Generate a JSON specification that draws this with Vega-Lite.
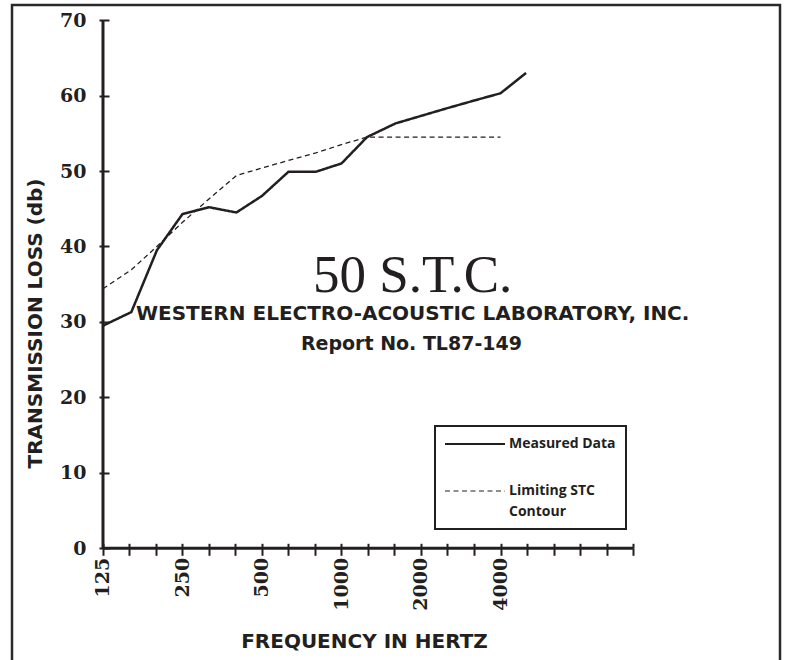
{
  "$schema": "https://vega.github.io/schema/vega-lite/v6.json",
  "width": 768,
  "height": 664,
  "autosize": {"type": "none"},
  "padding": {"left": 12, "top": 5, "right": 5, "bottom": -9},
  "background": "white",
  "config": {
    "view": {"stroke": "#2a2a2a", "strokeWidth": 2.5},
    "axis": {
      "grid": false,
      "domain": false,
      "labelFont": "DejaVu Serif",
      "labelFontWeight": "bold",
      "labelFontSize": 19,
      "labelColor": "#231f20",
      "tickColor": "#231f20",
      "tickWidth": 2,
      "titleFont": "DejaVu Sans",
      "titleFontWeight": "bold",
      "titleFontSize": 20,
      "titleColor": "#231f20"
    }
  },
  "datasets": {
    "curves": [
      {"series": "Measured Data", "freq": 125, "tl": 29.5},
      {"series": "Measured Data", "freq": 160, "tl": 31.3},
      {"series": "Measured Data", "freq": 200, "tl": 39.5},
      {"series": "Measured Data", "freq": 250, "tl": 44.3},
      {"series": "Measured Data", "freq": 315, "tl": 45.2},
      {"series": "Measured Data", "freq": 400, "tl": 44.5},
      {"series": "Measured Data", "freq": 500, "tl": 46.7},
      {"series": "Measured Data", "freq": 630, "tl": 49.9},
      {"series": "Measured Data", "freq": 800, "tl": 49.9},
      {"series": "Measured Data", "freq": 1000, "tl": 51.0},
      {"series": "Measured Data", "freq": 1250, "tl": 54.5},
      {"series": "Measured Data", "freq": 1600, "tl": 56.3},
      {"series": "Measured Data", "freq": 2000, "tl": 57.3},
      {"series": "Measured Data", "freq": 2500, "tl": 58.3},
      {"series": "Measured Data", "freq": 3150, "tl": 59.3},
      {"series": "Measured Data", "freq": 4000, "tl": 60.3},
      {"series": "Measured Data", "freq": 5000, "tl": 63.0},
      {"series": "Limiting STC Contour", "freq": 125, "tl": 34.4},
      {"series": "Limiting STC Contour", "freq": 160, "tl": 36.9},
      {"series": "Limiting STC Contour", "freq": 200, "tl": 40.0},
      {"series": "Limiting STC Contour", "freq": 250, "tl": 43.2},
      {"series": "Limiting STC Contour", "freq": 315, "tl": 46.3},
      {"series": "Limiting STC Contour", "freq": 400, "tl": 49.4},
      {"series": "Limiting STC Contour", "freq": 500, "tl": 50.4},
      {"series": "Limiting STC Contour", "freq": 630, "tl": 51.4},
      {"series": "Limiting STC Contour", "freq": 800, "tl": 52.4},
      {"series": "Limiting STC Contour", "freq": 1000, "tl": 53.5},
      {"series": "Limiting STC Contour", "freq": 1250, "tl": 54.5},
      {"series": "Limiting STC Contour", "freq": 1600, "tl": 54.5},
      {"series": "Limiting STC Contour", "freq": 2000, "tl": 54.5},
      {"series": "Limiting STC Contour", "freq": 2500, "tl": 54.5},
      {"series": "Limiting STC Contour", "freq": 3150, "tl": 54.5},
      {"series": "Limiting STC Contour", "freq": 4000, "tl": 54.5}
    ],
    "one": [{}]
  },
  "data": {"name": "curves"},
  "resolve": {"axis": {"x": "independent", "y": "independent"}},
  "layer": [
    {
      "transform": [{"filter": "datum.series === 'Measured Data'"}],
      "mark": {"type": "line", "color": "#231f20", "strokeWidth": 2.5},
      "encoding": {
        "x": {
          "field": "freq", "type": "quantitative",
          "scale": {"type": "log", "domain": [56.54, 45749], "nice": false, "zero": false},
          "axis": {
            "orient": "bottom", "offset": -120.7,
            "values": [125, 157.49, 198.43, 250, 314.98, 396.85, 500, 629.96, 793.7, 1000, 1259.92, 1587.4, 2000, 2519.84, 3174.8, 4000, 5039.68, 6349.6, 8000, 10079.37, 12699.21],
            "format": "d",
            "labelExpr": "indexof([125, 250, 500, 1000, 2000, 4000], datum.value) >= 0 ? datum.label : ''",
            "tickSize": 7,
            "labelAngle": 270, "labelAlign": "right", "labelBaseline": "middle",
            "labelPadding": 2, "labelOverlap": false, "labelFlush": false,
            "title": "FREQUENCY IN HERTZ",
            "titleX": 352, "titleY": 99, "titleAlign": "center", "titleBaseline": "alphabetic"
          }
        },
        "y": {
          "field": "tl", "type": "quantitative",
          "scale": {"domain": [-16, 72], "nice": false, "zero": false},
          "axis": {
            "orient": "left", "offset": -91,
            "values": [0, 10, 20, 30, 40, 50, 60, 70],
            "tickSize": 4, "labelPadding": 13,
            "labelOverlap": false, "labelFlush": false,
            "title": "TRANSMISSION LOSS (db)",
            "titleAngle": 270, "titleX": -62, "titleY": 318,
            "titleAlign": "center", "titleBaseline": "alphabetic"
          }
        },
        "strokeDash": {
          "field": "series", "type": "nominal",
          "scale": {"domain": ["Measured Data", "Limiting STC Contour"], "range": [[1, 0], [5, 3.5]]},
          "legend": {
            "orient": "none", "legendX": 423, "legendY": 421,
            "title": null,
            "padding": 10,
            "symbolType": "stroke", "symbolSize": 3600, "clipHeight": 16,
            "symbolOffset": 23,
            "symbolStrokeWidth": 2, "symbolStrokeColor": "#231f20",
            "labelFont": "Open Sans", "labelFontWeight": "bold", "labelFontSize": 14,
            "labelColor": "#231f20", "labelOffset": 27, "labelLimit": 220,
            "rowPadding": 31,
            "encode": {
              "symbols": {"update": {
                "strokeDash": {"signal": "datum.value === 'Limiting STC Contour' ? [1.5, 5] : [1, 0]"},
                "strokeWidth": {"signal": "datum.value === 'Limiting STC Contour' ? 1.2 : 2"}
              }},
              "labels": {"update": {
                "text": {"signal": "datum.value === 'Limiting STC Contour' ? ['Limiting STC', 'Contour'] : datum.label"},
                "lineHeight": {"value": 21}
              }},
              "legend": {"update": {
                "stroke": {"value": "#231f20"},
                "strokeWidth": {"value": 2}
              }}
            }
          }
        }
      }
    },
    {
      "transform": [{"filter": "datum.series === 'Limiting STC Contour'"}],
      "mark": {"type": "line", "color": "#231f20", "strokeWidth": 1.3},
      "encoding": {
        "x": {
          "field": "freq", "type": "quantitative",
          "axis": {
            "orient": "bottom", "offset": -120.7,
            "values": [125, 157.49, 198.43, 250, 314.98, 396.85, 500, 629.96, 793.7, 1000, 1259.92, 1587.4, 2000, 2519.84, 3174.8, 4000, 5039.68, 6349.6, 8000, 10079.37, 12699.21],
            "tickSize": -5, "labels": false, "title": null
          }
        },
        "y": {
          "field": "tl", "type": "quantitative",
          "axis": {
            "orient": "left", "offset": -91,
            "values": [0, 10, 20, 30, 40, 50, 60, 70],
            "tickSize": -6, "labels": false, "title": null
          }
        },
        "strokeDash": {"field": "series", "type": "nominal"}
      }
    },
    {
      "data": {"name": "one"},
      "mark": {"type": "rule", "color": "#231f20", "strokeWidth": 3},
      "encoding": {
        "x": {"datum": 125, "type": "quantitative", "axis": null},
        "x2": {"datum": 12699.21},
        "y": {"datum": 0, "type": "quantitative", "axis": null}
      }
    },
    {
      "data": {"name": "one"},
      "mark": {"type": "rule", "color": "#231f20", "strokeWidth": 3},
      "encoding": {
        "x": {"datum": 125, "type": "quantitative", "axis": null},
        "y": {"datum": 0, "type": "quantitative", "axis": null},
        "y2": {"datum": 70}
      }
    },
    {
      "data": {"name": "one"},
      "mark": {"type": "text", "font": "Liberation Serif", "fontSize": 53, "align": "center", "baseline": "alphabetic", "color": "#231f20"},
      "encoding": {
        "x": {"datum": 1860, "type": "quantitative", "axis": null},
        "y": {"datum": 33.94, "type": "quantitative", "axis": null},
        "text": {"value": "50 S.T.C."}
      }
    },
    {
      "data": {"name": "one"},
      "mark": {"type": "text", "font": "DejaVu Sans", "fontWeight": "bold", "fontSize": 20, "align": "center", "baseline": "alphabetic", "color": "#231f20"},
      "encoding": {
        "x": {"datum": 1860, "type": "quantitative", "axis": null},
        "y": {"datum": 30.23, "type": "quantitative", "axis": null},
        "text": {"value": "WESTERN ELECTRO-ACOUSTIC LABORATORY, INC."}
      }
    },
    {
      "data": {"name": "one"},
      "mark": {"type": "text", "font": "DejaVu Sans", "fontWeight": "bold", "fontSize": 19, "align": "center", "baseline": "alphabetic", "color": "#231f20"},
      "encoding": {
        "x": {"datum": 1840, "type": "quantitative", "axis": null},
        "y": {"datum": 26.25, "type": "quantitative", "axis": null},
        "text": {"value": "Report No. TL87-149"}
      }
    }
  ]
}
